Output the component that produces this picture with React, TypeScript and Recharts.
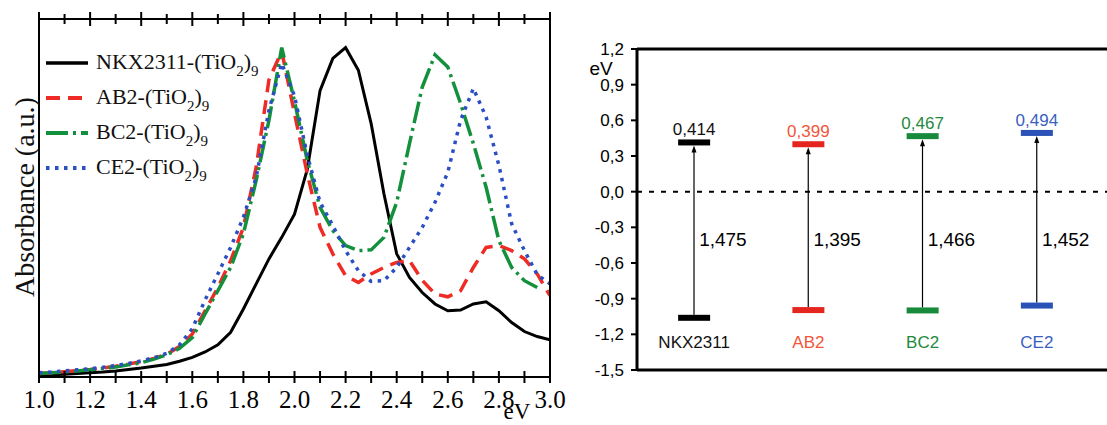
import React from "react";
import {
  Bar,
  ComposedChart,
  Label,
  Line,
  LineChart,
  ReferenceLine,
  Scatter,
  XAxis,
  YAxis,
} from "recharts";

const SERIF = "'Liberation Serif', 'Times New Roman', Times, serif";
const SANS = "'Liberation Sans', Arial, Helvetica, sans-serif";

// ---- left panel: absorption spectra (eV vs a.u.) ----
const energies = [
  1.0, 1.05, 1.1, 1.15, 1.2, 1.25, 1.3, 1.35, 1.4, 1.45, 1.5, 1.55, 1.6, 1.65,
  1.7, 1.75, 1.8, 1.85, 1.9, 1.95, 2.0, 2.05, 2.1, 2.15, 2.2, 2.25, 2.3, 2.35,
  2.4, 2.45, 2.5, 2.55, 2.6, 2.65, 2.7, 2.75, 2.8, 2.85, 2.9, 2.95, 3.0,
];
const nkxAbs = [
  0.005, 0.006, 0.008, 0.01, 0.012, 0.014, 0.017, 0.021, 0.025, 0.03, 0.035,
  0.044, 0.055, 0.07, 0.09, 0.125, 0.19, 0.26, 0.33, 0.39, 0.455, 0.58, 0.8,
  0.89, 0.92, 0.857, 0.708, 0.512, 0.344, 0.278, 0.236, 0.204, 0.185, 0.187,
  0.204, 0.21, 0.185, 0.152, 0.127, 0.113, 0.104,
];
const ab2Abs = [
  0.01, 0.012, 0.015, 0.018, 0.021, 0.025, 0.03, 0.036, 0.043, 0.052, 0.064,
  0.085, 0.12, 0.185, 0.25, 0.325, 0.418, 0.586, 0.83, 0.91, 0.736, 0.568,
  0.418, 0.344, 0.283, 0.264, 0.288, 0.306, 0.32, 0.325, 0.27, 0.232, 0.224,
  0.241, 0.306, 0.362, 0.367, 0.353, 0.33, 0.288, 0.227,
];
const bc2Abs = [
  0.01, 0.012, 0.014, 0.017, 0.02, 0.024, 0.028, 0.034, 0.04, 0.05, 0.062,
  0.08, 0.11, 0.176, 0.241, 0.306, 0.4, 0.549, 0.717, 0.92, 0.77, 0.605,
  0.474, 0.409, 0.367, 0.353, 0.355, 0.39, 0.488, 0.652, 0.81, 0.9, 0.866,
  0.764, 0.652, 0.53, 0.381, 0.306, 0.269, 0.25, null,
];
const ce2Abs = [
  0.012, 0.014, 0.017, 0.02, 0.023, 0.027, 0.032, 0.038, 0.045, 0.054, 0.066,
  0.09, 0.135, 0.215, 0.288, 0.362, 0.446, 0.558, 0.745, 0.876, 0.785, 0.62,
  0.488, 0.423, 0.353, 0.297, 0.267, 0.269, 0.306, 0.362, 0.418, 0.488, 0.572,
  0.717, 0.806, 0.726, 0.591, 0.428, 0.353, 0.286, 0.26,
];
const energyTicks = [
  1.0, 1.1, 1.2, 1.3, 1.4, 1.5, 1.6, 1.7, 1.8, 1.9, 2.0, 2.1, 2.2, 2.3, 2.4,
  2.5, 2.6, 2.7, 2.8, 2.9, 3.0,
];
const labelledEnergies = [1.0, 1.2, 1.4, 1.6, 1.8, 2.0, 2.2, 2.4, 2.6, 2.8, 3.0];

// ---- right panel: energy levels ----
const dyeNames = ["NKX2311", "AB2", "BC2", "CE2"];
const lumoLevels = [0.414, 0.399, 0.467, 0.494];
const bandGaps = [1.475, 1.395, 1.466, 1.452];
const levelTicks = [-1.5, -1.2, -0.9, -0.6, -0.3, 0, 0.3, 0.6, 0.9, 1.2];

const spectrumData = energies.map((e, i) => ({
  e,
  nkx: nkxAbs[i],
  ab2: ab2Abs[i],
  bc2: bc2Abs[i],
  ce2: ce2Abs[i],
}));

const levelData = dyeNames.map((name, i) => ({
  name,
  lumo: lumoLevels[i],
  gap: bandGaps[i],
  homo: +(lumoLevels[i] - bandGaps[i]).toFixed(3),
}));

const spectrumSeries = [
  { key: "nkx", name: "NKX2311", color: "#000000", width: 3, dash: undefined },
  { key: "ab2", name: "AB2", color: "#ee2b24", width: 3.5, dash: "14 8" },
  { key: "bc2", name: "BC2", color: "#13903c", width: 3.5, dash: "22 5 3 5" },
  { key: "ce2", name: "CE2", color: "#2a4fc4", width: 3.5, dash: "3.5 5.5" },
];

const levelStyle: Record<string, { bar: string; text: string }> = {
  NKX2311: { bar: "#000000", text: "#111111" },
  AB2: { bar: "#e5261e", text: "#f2553a" },
  BC2: { bar: "#178a3c", text: "#1f8a40" },
  CE2: { bar: "#2b52b6", text: "#3a5fc0" },
};

const GAP_LABEL_LEVEL = -0.4;

const comma = (v: number, digits: number) => v.toFixed(digits).replace(".", ",");

const isMajor = (v: number) => labelledEnergies.some((m) => Math.abs(m - v) < 1e-6);

const BottomTick = (props: any) => {
  const { x, y, payload } = props;
  const v = payload.value as number;
  const major = isMajor(v);
  return (
    <g>
      <line x1={x} x2={x} y1={y - 6} y2={y + 6} stroke="#000" strokeWidth={2} />
      {major && (
        <text x={x} y={y + 31} textAnchor="middle" fontFamily={SERIF} fontSize={25} fill="#000">
          {v.toFixed(1)}
        </text>
      )}
    </g>
  );
};

const TopTick = (props: any) => {
  const { x, y, payload } = props;
  const len = isMajor(payload.value) ? 7 : 5;
  return <line x1={x} x2={x} y1={y - len} y2={y + len} stroke="#000" strokeWidth={2} />;
};

const DyeTick = (props: any) => {
  const { x, y, payload } = props;
  return (
    <text x={x} y={y - 22} textAnchor="middle" fontFamily={SANS} fontSize={17} fill={levelStyle[payload.value].text}>
      {payload.value}
    </text>
  );
};

const LevelBar = (props: any) => {
  const { cx, cy, payload } = props;
  if (cx == null || cy == null) return <g />;
  return <rect x={cx - 16} y={cy - 3} width={32} height={6} fill={levelStyle[payload.name].bar} />;
};

const LumoBar = (props: any) => {
  const { cx, cy, payload } = props;
  if (cx == null || cy == null) return <g />;
  return (
    <g>
      <rect x={cx - 16} y={cy - 3} width={32} height={6} fill={levelStyle[payload.name].bar} />
      <text x={cx} y={cy - 7} textAnchor="middle" fontFamily={SANS} fontSize={17} fill={levelStyle[payload.name].text}>
        {comma(payload.lumo, 3)}
      </text>
    </g>
  );
};

const GapLabel = (props: any) => {
  const { cx, cy, payload } = props;
  if (cx == null || cy == null) return <g />;
  return (
    <text x={cx + 5} y={cy + 7} textAnchor="start" fontFamily={SANS} fontSize={19} fill="#000">
      {comma(payload.gap, 3)}
    </text>
  );
};

const GapArrow = (props: any) => {
  const { x, y, width, height } = props;
  const cx = x + width / 2;
  const top = Math.min(y, y + height) + 3;
  const bottom = Math.max(y, y + height) - 3;
  return (
    <g>
      <line x1={cx} x2={cx} y1={bottom} y2={top + 6} stroke="#000" strokeWidth={1.2} />
      <path d={`M${cx},${top} L${cx - 2.5},${top + 7} L${cx + 2.5},${top + 7} Z`} fill="#000" />
    </g>
  );
};

const AbsorbanceTitle = (props: any) => {
  const vb = props.viewBox || { x: 0, y: 19, width: 39, height: 358 };
  const cx = vb.x + 24;
  const cy = vb.y + vb.height / 2 - 1;
  return (
    <text
      x={cx}
      y={cy}
      transform={`rotate(-90, ${cx}, ${cy})`}
      textAnchor="middle"
      dominantBaseline="central"
      fontFamily={SERIF}
      fontSize={28}
      fill="#111"
    >
      Absorbance (a.u.)
    </text>
  );
};

const EnergyTitleLeft = (props: any) => {
  const vb = props.viewBox || { x: 39, y: 377, width: 511, height: 48 };
  return (
    <text x={vb.x + vb.width - 33} y={vb.y + 42} textAnchor="middle" fontFamily={SERIF} fontSize={23} fill="#000">
      eV
    </text>
  );
};

const EnergyTitleRight = (props: any) => {
  const vb = props.viewBox || { x: 0, y: 49, width: 77, height: 321 };
  return (
    <text x={vb.x + 41} y={vb.y + 26} textAnchor="middle" fontFamily={SANS} fontSize={19} fill="#000">
      eV
    </text>
  );
};

const SpectrumLegend = () => (
  <>
    {spectrumSeries.map((s, i) => (
      <div
        key={s.key}
        style={{
          position: "absolute",
          left: 46,
          top: 63 + i * 35 - 16,
          height: 32,
          display: "flex",
          alignItems: "center",
        }}
      >
        <svg width={42} height={8} style={{ display: "block" }}>
          <line x1={0} x2={42} y1={4} y2={4} stroke={s.color} strokeWidth={s.width + 0.5} strokeDasharray={s.dash} />
        </svg>
        <span
          style={{
            marginLeft: 8,
            fontFamily: SERIF,
            fontSize: 22,
            lineHeight: "32px",
            whiteSpace: "nowrap",
            color: "#111",
          }}
        >
          {s.name}-(TiO
          <span style={{ fontSize: 15, position: "relative", top: 7 }}>2</span>)
          <span style={{ fontSize: 15, position: "relative", top: 7 }}>9</span>
        </span>
      </div>
    ))}
  </>
);

export default function App() {
  return (
    <div
      style={{
        position: "absolute",
        left: 0,
        top: 0,
        width: 1107,
        height: 425,
        overflow: "hidden",
        background: "#fff",
      }}
    >
      <div style={{ position: "absolute", left: 0, top: 0, width: 580, height: 425 }}>
        <LineChart width={580} height={425} data={spectrumData} margin={{ top: 18, right: 20, bottom: 0, left: 0 }}>
          <XAxis
            dataKey="e"
            type="number"
            domain={[1, 3]}
            ticks={energyTicks}
            interval={0}
            height={48}
            axisLine={{ stroke: "#000", strokeWidth: 2 }}
            tickLine={false}
            tickSize={0}
            tickMargin={0}
            tick={<BottomTick />}
            allowDataOverflow
          >
            <Label content={<EnergyTitleLeft />} />
          </XAxis>
          <XAxis
            xAxisId="top"
            orientation="top"
            dataKey="e"
            type="number"
            domain={[1, 3]}
            ticks={energyTicks}
            interval={0}
            height={1}
            axisLine={{ stroke: "#000", strokeWidth: 2 }}
            tickLine={false}
            tickSize={0}
            tickMargin={0}
            tick={<TopTick />}
            allowDataOverflow
          />
          <YAxis
            type="number"
            domain={[0, 1]}
            width={39}
            tick={false}
            tickLine={false}
            axisLine={{ stroke: "#000", strokeWidth: 2 }}
            allowDataOverflow
          >
            <Label content={<AbsorbanceTitle />} />
          </YAxis>
          <YAxis
            yAxisId="right"
            orientation="right"
            type="number"
            domain={[0, 1]}
            width={10}
            tick={false}
            tickLine={false}
            axisLine={{ stroke: "#000", strokeWidth: 2 }}
          />
          {spectrumSeries.map((s) => (
            <Line
              key={s.key}
              type="linear"
              dataKey={s.key}
              name={s.name}
              stroke={s.color}
              strokeWidth={s.width}
              strokeDasharray={s.dash}
              dot={false}
              activeDot={false}
              isAnimationActive={false}
            />
          ))}
        </LineChart>
        <SpectrumLegend />
      </div>

      <div style={{ position: "absolute", left: 560, top: 0, width: 555, height: 425 }}>
        <ComposedChart width={555} height={425} data={levelData} margin={{ top: 49, right: 0, bottom: 0, left: 0 }}>
          <XAxis
            dataKey="name"
            type="category"
            height={55}
            padding={{ left: 0, right: 21 }}
            interval={0}
            axisLine={{ stroke: "#000", strokeWidth: 3 }}
            tickLine={false}
            tickSize={0}
            tickMargin={0}
            tick={<DyeTick />}
          />
          <YAxis
            type="number"
            domain={[-1.5, 1.2]}
            ticks={levelTicks}
            interval={0}
            width={77}
            tickSize={6}
            tickMargin={7}
            tickFormatter={(v: number) => comma(v, 1)}
            tick={{ fontFamily: SANS, fontSize: 17, fill: "#000" }}
            tickLine={{ stroke: "#000", strokeWidth: 2 }}
            axisLine={{ stroke: "#000", strokeWidth: 3 }}
            allowDataOverflow
          >
            <Label content={<EnergyTitleRight />} />
          </YAxis>
          <ReferenceLine y={1.2} stroke="#000" strokeWidth={3} />
          <ReferenceLine y={0} stroke="#000" strokeWidth={2} strokeDasharray="5 7" />
          <Bar
            dataKey={(d: any) => [d.homo, d.lumo]}
            barSize={10}
            shape={<GapArrow />}
            isAnimationActive={false}
          />
          <Scatter dataKey="homo" shape={<LevelBar />} isAnimationActive={false} />
          <Scatter dataKey="lumo" shape={<LumoBar />} isAnimationActive={false} />
          <Scatter dataKey={() => GAP_LABEL_LEVEL} shape={<GapLabel />} isAnimationActive={false} />
        </ComposedChart>
      </div>
    </div>
  );
}
